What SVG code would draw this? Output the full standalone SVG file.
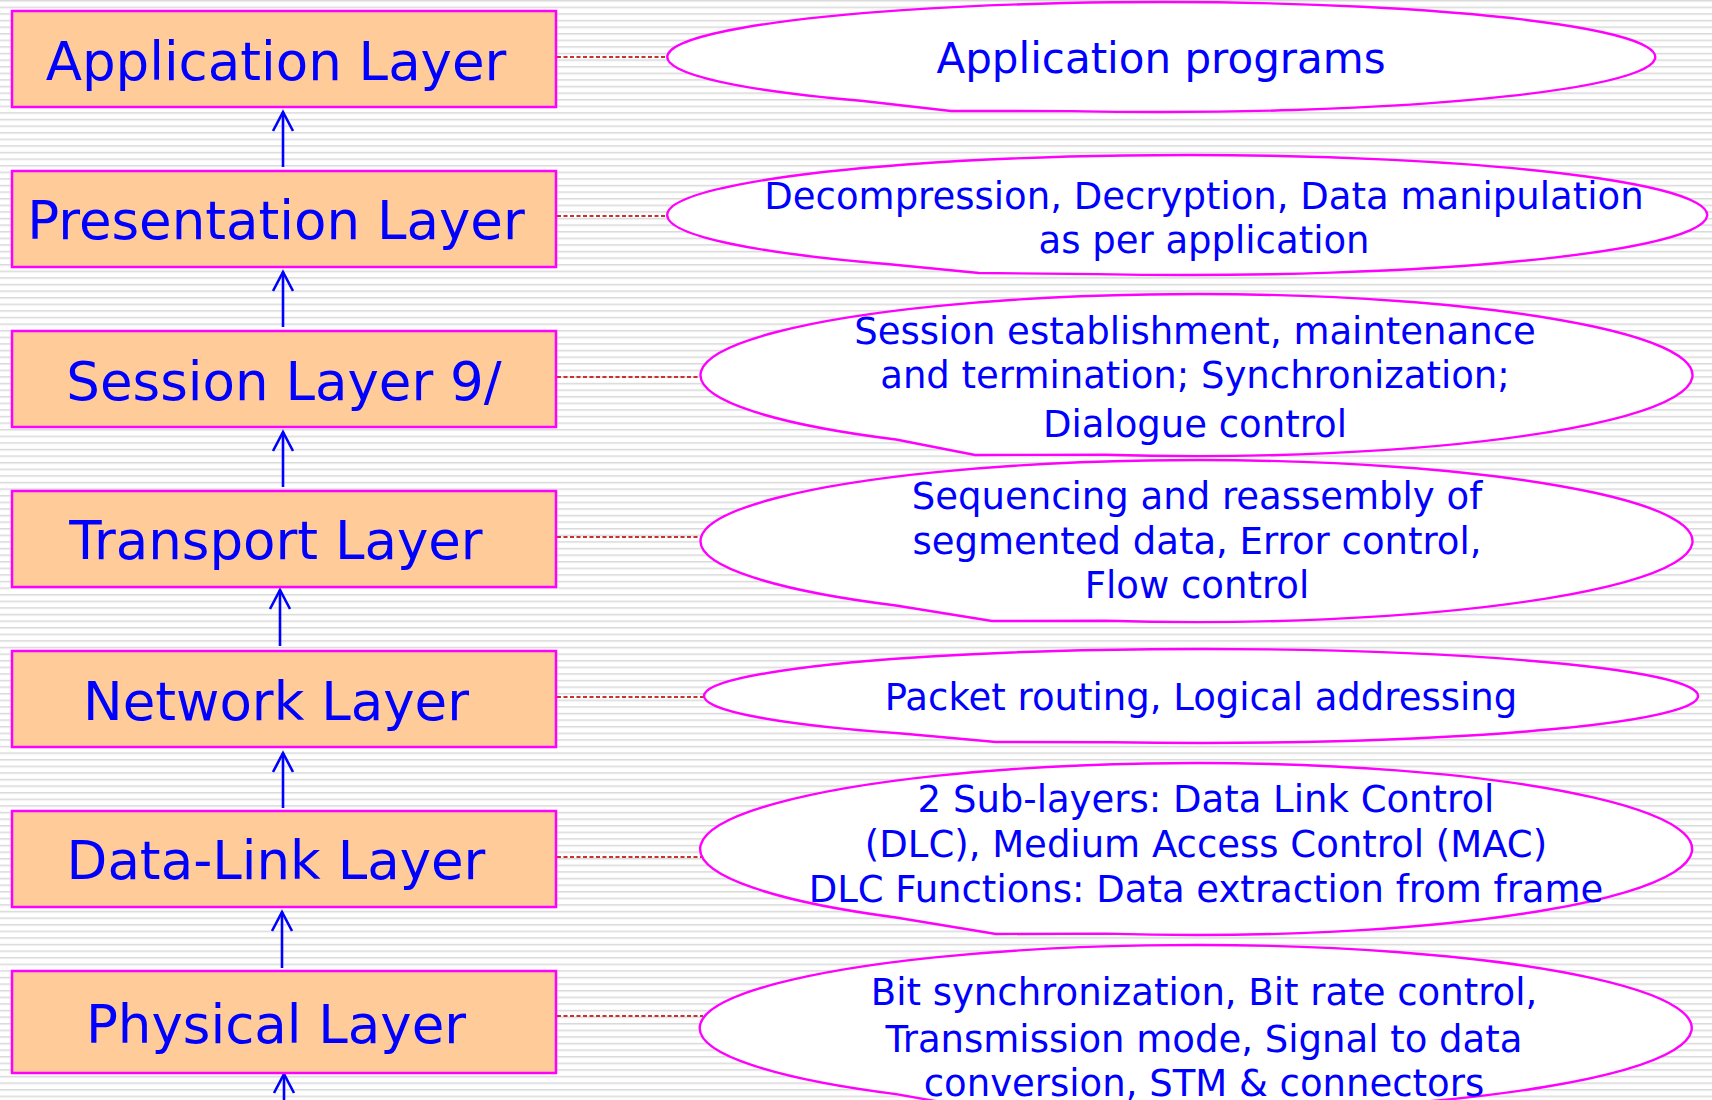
<svg xmlns="http://www.w3.org/2000/svg" width="1712" height="1100" viewBox="0 0 1712 1100">
  <defs>
    <pattern id="stripes" patternUnits="userSpaceOnUse" width="16" height="6.6">
      <rect x="0" y="0" width="16" height="6.6" fill="#ffffff"/>
      <rect x="0" y="0" width="16" height="1" fill="#d9d9d9"/>
      <rect x="0" y="1" width="16" height="1" fill="#e9e9e9"/>
    </pattern>
    <marker id="openHead" markerUnits="userSpaceOnUse" markerWidth="30" markerHeight="30" refX="0" refY="0" orient="auto" overflow="visible">
      <path d="M-19,-10 L0,0 L-19,10" fill="none" stroke="#0000ff" stroke-width="2.6" stroke-linejoin="miter"/>
    </marker>
    <style>
      .layer rect { fill: #ffcc99; stroke: #ff00ff; stroke-width: 2.5; }
      .layer text { font-family: "DejaVu Sans", Verdana, sans-serif; font-size: 53px; fill: #0000ff; text-anchor: middle; }
      .note path { fill: #ffffff; stroke: #ff00ff; stroke-width: 2.4; }
      .note text { font-family: "DejaVu Sans", Verdana, sans-serif; font-size: 37px; fill: #0000ff; text-anchor: middle; }
      .flow { stroke: #0000ff; stroke-width: 2.6; fill: none; marker-end: url(#openHead); }
      .tie { stroke: #c83232; stroke-width: 1.8; stroke-dasharray: 4 2.5; fill: none; }
    </style>
  </defs>

  <!-- striped backdrop -->
  <rect x="0" y="0" width="1712" height="1100" fill="url(#stripes)"/>

  <!-- connectors: upward flow between layers and dotted ties to the descriptions -->
  <g id="connectors">
    <line class="flow" x1="283" y1="167" x2="283" y2="112"/>
    <line class="flow" x1="283" y1="327" x2="283" y2="272"/>
    <line class="flow" x1="283" y1="487" x2="283" y2="432"/>
    <line class="flow" x1="280" y1="646" x2="280" y2="590"/>
    <line class="flow" x1="283" y1="808" x2="283" y2="753"/>
    <line class="flow" x1="282" y1="968" x2="282" y2="912"/>
    <line class="flow" x1="284" y1="1110" x2="284" y2="1074"/>

    <line class="tie" x1="557" y1="57" x2="670" y2="57"/>
    <line class="tie" x1="557" y1="216" x2="670" y2="216"/>
    <line class="tie" x1="557" y1="377" x2="703" y2="377"/>
    <line class="tie" x1="557" y1="537" x2="703" y2="537"/>
    <line class="tie" x1="557" y1="697" x2="708" y2="697"/>
    <line class="tie" x1="557" y1="857" x2="703" y2="857"/>
    <line class="tie" x1="557" y1="1016" x2="703" y2="1016"/>
  </g>

  <!-- OSI layers -->
  <g id="application-layer" class="layer">
    <rect x="12" y="11" width="544" height="96"/>
    <text x="276" y="80">Application Layer</text>
  </g>
  <g id="presentation-layer" class="layer">
    <rect x="12" y="171" width="544" height="96"/>
    <text x="276" y="239">Presentation Layer</text>
  </g>
  <g id="session-layer" class="layer">
    <rect x="12" y="331" width="544" height="96"/>
    <text x="284" y="400">Session Layer 9/</text>
  </g>
  <g id="transport-layer" class="layer">
    <rect x="12" y="491" width="544" height="96"/>
    <text x="276" y="559">Transport Layer</text>
  </g>
  <g id="network-layer" class="layer">
    <rect x="12" y="651" width="544" height="96"/>
    <text x="276" y="720">Network Layer</text>
  </g>
  <g id="datalink-layer" class="layer">
    <rect x="12" y="811" width="544" height="96"/>
    <text x="276" y="879">Data-Link Layer</text>
  </g>
  <g id="physical-layer" class="layer">
    <rect x="12" y="971" width="544" height="102"/>
    <text x="276" y="1043">Physical Layer</text>
  </g>

  <!-- oval callouts describing each layer -->
  <g id="application-note" class="note">
    <path d="M861,100.7 L951,111 L1071,111.1 A494,55 0 1 0 861,100.7 Z"/>
    <text x="1161" y="73" style="font-size:42px">Application programs</text>
  </g>
  <g id="presentation-note" class="note">
    <path d="M887,264 L979,273 L1097,274.1 A520,60 0 1 0 887,264 Z"/>
    <text x="1204" y="209">Decompression, Decryption, Data manipulation</text>
    <text x="1204" y="253">as per application</text>
  </g>
  <g id="session-note" class="note">
    <path d="M896,439.5 L975,455 L1106,454.7 A496,81 0 1 0 896,439.5 Z"/>
    <text x="1195" y="344">Session establishment, maintenance</text>
    <text x="1195" y="388">and termination; Synchronization;</text>
    <text x="1195" y="437">Dialogue control</text>
  </g>
  <g id="transport-note" class="note">
    <path d="M896,605.5 L992,621 L1106,620.7 A496,81 0 1 0 896,605.5 Z"/>
    <text x="1197" y="509">Sequencing and reassembly of</text>
    <text x="1197" y="554">segmented data, Error control,</text>
    <text x="1197" y="598">Flow control</text>
  </g>
  <g id="network-note" class="note">
    <path d="M902,733.5 L996,742 L1112,742.2 A497,47 0 1 0 902,733.5 Z"/>
    <text x="1201" y="710">Packet routing, Logical addressing</text>
  </g>
  <g id="datalink-note" class="note">
    <path d="M896,917.5 L996,934 L1106,933.6 A496,86 0 1 0 896,917.5 Z"/>
    <text x="1206" y="812">2 Sub-layers: Data Link Control</text>
    <text x="1206" y="857">(DLC), Medium Access Control (MAC)</text>
    <text x="1206" y="902">DLC Functions: Data extraction from frame</text>
  </g>
  <g id="physical-note" class="note">
    <path d="M896,1094.1 L986,1110 L1106,1109.6 A496,83 0 1 0 896,1094.1 Z"/>
    <text x="1204" y="1005">Bit synchronization, Bit rate control,</text>
    <text x="1204" y="1052">Transmission mode, Signal to data</text>
    <text x="1204" y="1096">conversion, STM &amp; connectors</text>
  </g>
</svg>
